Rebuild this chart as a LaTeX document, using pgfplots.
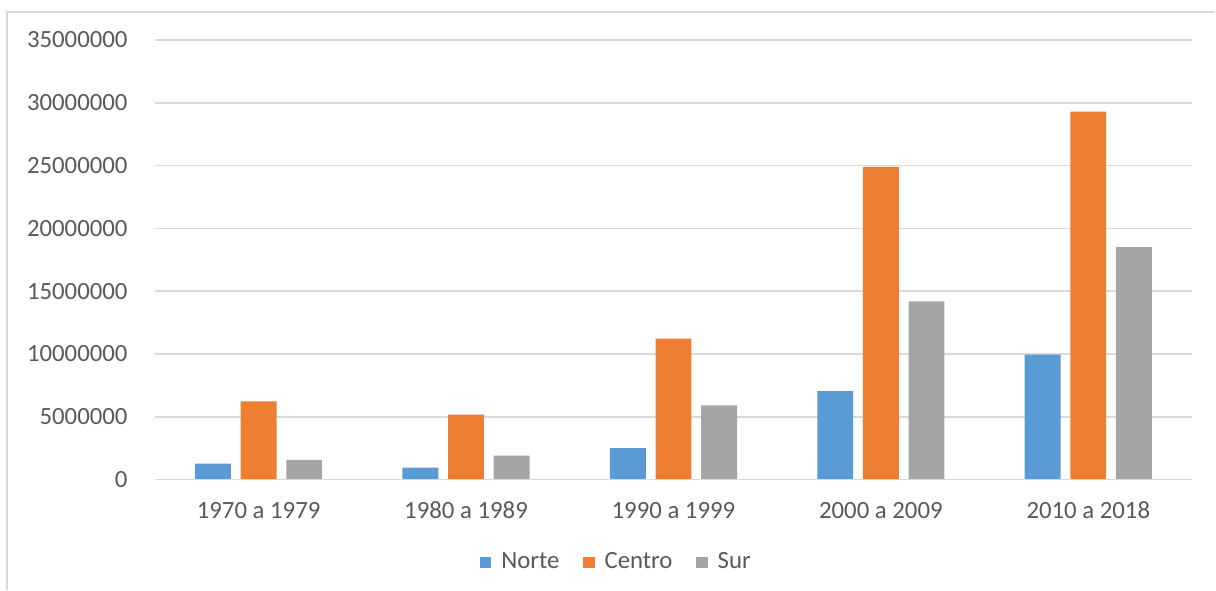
\documentclass[border=0pt]{standalone}
\usepackage{pgfplots}
\pgfplotsset{compat=1.18}
\usepackage{fontspec}
\setmainfont{Carlito}
\definecolor{cN}{HTML}{5B9BD5}
\definecolor{cC}{HTML}{ED7D31}
\definecolor{cS}{HTML}{A5A5A5}
\definecolor{txt}{HTML}{595959}
\definecolor{grd}{HTML}{D9D9D9}
\begin{document}
\fontsize{12.4}{14}\selectfont
\begin{tikzpicture}
\begin{axis}[
  name=ax,
  scale only axis,
  width=519pt, height=220pt,
  xmin=-0.5, xmax=4.5,
  ymin=0, ymax=35000000,
  ytick={0,5000000,10000000,15000000,20000000,25000000,30000000,35000000},
  scaled y ticks=false,
  xtick={0,1,2,3,4},
  xticklabels={1970 a 1979,1980 a 1989,1990 a 1999,2000 a 2009,2010 a 2018},
  axis line style={draw=none},
  major tick length=0pt,
  ymajorgrids,
  grid style={grd, line width=0.8pt},
  yticklabel style={/pgf/number format/fixed, /pgf/number format/precision=0, /pgf/number format/1000 sep={}, /pgf/number format/assume math mode=true, inner sep=0pt, anchor=east, xshift=-13.5pt, text=txt, font=\fontsize{12.4}{14}\selectfont},
  xticklabel style={inner sep=0pt, anchor=north, yshift=-11pt, text=txt, font=\fontsize{12.4}{14}\selectfont},
  ybar, bar width=0.173,
  legend style={at={(0.446,-0.189)}, anchor=center, draw=none, legend columns=-1,
    font=\fontsize{12.4}{14}\selectfont, text=txt,
    /tikz/every odd column/.append style={column sep=3pt},
    /tikz/every even column/.append style={column sep=10pt}},
  legend image code/.code={\fill[#1] (0pt,-2.8pt) rectangle (5.6pt,2.8pt);},
  clip=false,
]
\addplot[fill=cN, draw=none, bar shift=-0.22] coordinates {(0,1270000) (1,960000) (2,2510000) (3,7040000) (4,9950000)};
\addplot[fill=cC, draw=none, bar shift=0] coordinates {(0,6220000) (1,5180000) (2,11230000) (3,24900000) (4,29300000)};
\addplot[fill=cS, draw=none, bar shift=0.22] coordinates {(0,1580000) (1,1900000) (2,5920000) (3,14190000) (4,18500000)};
\legend{Norte,Centro,Sur}
\draw[grd, line width=0.8pt] (axis description cs:0,0) -- (axis description cs:1,0);
\end{axis}
\draw[grd, line width=1pt] ([xshift=-74pt,yshift=-55pt]ax.south west) -- ([xshift=-74pt,yshift=234pt]ax.south west) -- ([xshift=530.5pt,yshift=234pt]ax.south west);
\path[use as bounding box] ([xshift=-77.5pt,yshift=-55pt]ax.south west) rectangle ([xshift=530.5pt,yshift=240pt]ax.south west);
\end{tikzpicture}
\end{document}
